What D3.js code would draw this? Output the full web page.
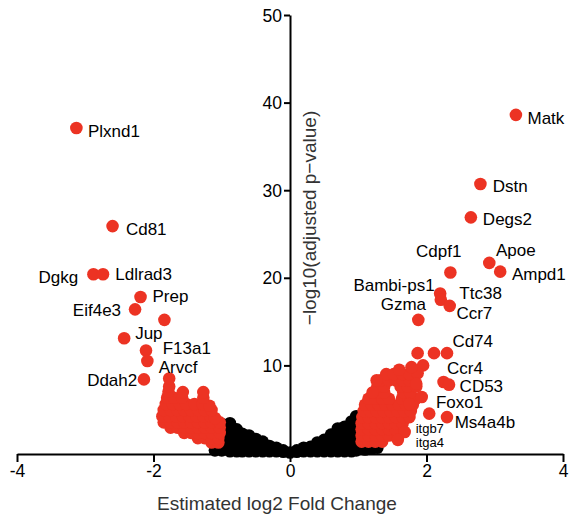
<!DOCTYPE html>
<html>
<head>
<meta charset="utf-8">
<script src="https://cdn.jsdelivr.net/npm/d3@7"></script>
<style>
body { margin: 0; background: #fff; }
text { font-family: "Liberation Sans", Arial, sans-serif; }
</style>
</head>
<body>
<div id="chart"></div>
<script>
const width = 570;
const height = 522;
const dotR = 6.3;
const red = '#ec3323';

// tick values
const xTicks = [-4, -2, 0, 2, 4];
const yTicks = [10, 20, 30, 40, 50];

// non significant genes (log2FC, -log10 p)
const blackPts = [
  [-1.1,0.3],[-1.0,0.3],[-1.0,1.0],[-1.0,1.8],[-1.0,2.6],[-1.0,3.3],
  [-0.88,0.2],[-0.88,0.9],[-0.88,1.6],[-0.88,2.3],[-0.88,3.0],[-0.88,3.4],
  [-0.78,0.2],[-0.78,0.9],[-0.78,1.6],[-0.78,2.3],[-0.78,2.7],
  [-0.7,0.2],[-0.7,0.9],[-0.7,1.6],[-0.7,2.2],
  [-0.6,0.2],[-0.6,0.9],[-0.6,1.7],[-0.6,2.0],
  [-0.5,0.2],[-0.5,0.9],[-0.5,1.6],
  [-0.4,0.2],[-0.4,0.8],[-0.4,1.3],
  [-0.3,0.2],[-0.3,0.8],
  [-0.2,0.2],[-0.2,0.6],
  [-0.1,0.15],[-0.1,0.3],
  [0,0.05],
  [0.1,0.15],[0.1,0.3],
  [0.2,0.2],[0.2,0.6],
  [0.3,0.2],[0.3,0.7],
  [0.4,0.2],[0.4,0.9],[0.4,1.2],
  [0.5,0.2],[0.5,0.9],[0.5,1.5],
  [0.6,0.2],[0.6,0.9],[0.6,1.6],[0.6,2.1],
  [0.7,0.2],[0.7,0.9],[0.7,1.6],[0.7,2.4],[0.7,2.8],
  [0.8,0.2],[0.8,0.9],[0.8,1.6],[0.8,2.3],[0.8,3.0],
  [0.9,0.2],[0.9,0.9],[0.9,1.6],[0.9,2.3],[0.9,3.0],[0.9,3.6],
  [0.97,0.3],[0.97,1.0],[0.97,1.7],[0.97,2.4],[0.97,3.1],[0.97,3.8],[0.97,4.2],
  [1.1,0.4],[1.1,1.0],[1.28,0.6],[1.2,0.5]
];

// significant, down
const leftRed = [
  [-1.15,1.2],[-1.05,1.2],
  [-1.35,1.7],[-1.25,1.7],[-1.15,1.7],[-1.05,1.7],
  [-1.55,2.3],[-1.45,2.3],[-1.35,2.3],[-1.25,2.3],[-1.15,2.3],[-1.03,2.3],
  [-1.75,2.9],[-1.65,2.9],[-1.55,2.9],[-1.45,2.9],[-1.35,2.9],[-1.25,2.9],[-1.15,2.9],[-1.03,2.9],
  [-1.85,3.5],[-1.75,3.5],[-1.65,3.5],[-1.55,3.5],[-1.45,3.5],[-1.35,3.5],[-1.25,3.5],[-1.15,3.5],[-1.03,3.5],
  [-1.87,4.2],[-1.77,4.2],[-1.67,4.2],[-1.57,4.2],[-1.47,4.2],[-1.37,4.2],[-1.27,4.2],[-1.17,4.2],[-1.1,4.0],
  [-1.85,4.9],[-1.75,4.9],[-1.65,4.9],[-1.55,4.9],[-1.45,4.9],[-1.35,4.9],[-1.25,4.9],[-1.15,4.9],
  [-1.82,5.6],[-1.72,5.6],[-1.62,5.6],[-1.52,5.6],[-1.4,5.6],[-1.28,5.6],[-1.18,5.4],
  [-1.8,6.3],[-1.7,6.3],[-1.58,6.3],[-1.27,6.3],
  [-1.78,7.0],[-1.77,7.6],[-1.77,8.5],[-1.57,6.95],[-1.27,6.95],
  [-1.84,15.2]
];

// significant, up
const rightRed = [
  [1.05,1.3],[1.15,1.3],[1.25,1.3],[1.35,1.3],
  [1.05,2.0],[1.15,2.0],[1.25,2.0],[1.35,2.0],[1.45,2.0],
  [1.05,2.7],[1.15,2.7],[1.25,2.7],[1.35,2.7],[1.45,2.7],[1.55,2.7],
  [1.05,3.4],[1.15,3.4],[1.25,3.4],[1.35,3.4],[1.45,3.4],[1.55,3.4],[1.65,3.4],
  [1.06,4.1],[1.15,4.1],[1.25,4.1],[1.35,4.1],[1.45,4.1],[1.55,4.1],[1.65,4.1],[1.75,4.1],
  [1.08,4.8],[1.17,4.8],[1.27,4.8],[1.37,4.8],[1.47,4.8],[1.57,4.8],[1.67,4.8],[1.77,4.8],
  [1.1,5.5],[1.2,5.5],[1.3,5.5],[1.4,5.5],[1.5,5.5],[1.6,5.5],[1.7,5.5],[1.8,5.5],
  [1.15,6.2],[1.25,6.2],[1.35,6.2],[1.45,6.2],[1.64,6.2],[1.74,6.2],[1.84,6.2],
  [1.22,6.9],[1.32,6.9],[1.38,6.9],[1.66,6.9],[1.76,6.9],
  [1.28,7.6],[1.38,7.6],[1.62,7.6],[1.72,7.6],[1.85,7.6],
  [1.33,8.3],[1.45,8.3],[1.55,8.3],[1.65,8.3],[1.75,8.3],
  [1.41,9.0],[1.52,9.0],[1.65,9.0],[1.75,9.0],
  [1.6,9.5],[1.95,10.0],[1.87,9.1],[1.85,7.9],[1.93,6.4],[1.27,8.3],[1.21,6.9],[1.78,9.8],[1.75,5.6],
  [1.87,11.4],[2.11,11.4]
];

// labelled genes
const genes = ['Plxnd1','Cd81','Dgkg','Ldlrad3','Prep','Eif4e3','Jup','F13a1','Arvcf','Ddah2',
  'Matk','Dstn','Degs2','Apoe','Ampd1','Cdpf1','Bambi-ps1','Ttc38','Ccr7','Gzma',
  'Cd74','Ccr4','CD53','Foxo1','Ms4a4b','itgb7','itga4'];
const geneFC = [-3.13,-2.60,-2.88,-2.74,-2.19,-2.27,-2.43,-2.11,-2.09,-2.14,
  3.31,2.79,2.65,2.92,3.08,2.35,2.20,2.21,2.34,1.88,
  2.30,2.25,2.33,2.04,2.30,1.68,1.58];
const geneP = [37.1,25.9,20.4,20.4,17.8,16.4,13.1,11.7,10.5,8.4,
  38.6,30.7,26.9,21.7,20.7,20.6,18.2,17.5,16.8,15.2,
  11.4,8.1,7.8,4.5,4.1,2.4,1.5];

// label placement (px offset from dot, anchor)
const labelPos = {
  Plxnd1:[11.6,9,'start'], Cd81:[13.4,9,'start'], Dgkg:[-15.3,9,'end'], Ldlrad3:[12.3,5.3,'start'],
  Prep:[12,4.7,'start'], Eif4e3:[-14,6.7,'end'], Jup:[11,0.7,'start'], F13a1:[16.7,3,'start'],
  Arvcf:[11.4,11.5,'start'], Ddah2:[-6.7,6.7,'end'],
  Matk:[11.6,9,'start'], Dstn:[12.4,8,'start'], Degs2:[12,7.8,'start'], Apoe:[6.7,-6.8,'start'],
  Ampd1:[11.7,8.8,'start'], Cdpf1:[-34.3,-15.8,'start'], 'Bambi-ps1':[-5.5,-2.5,'end'],
  Ttc38:[18.5,-1,'start'], Ccr7:[6.7,13,'start'], Gzma:[7.7,-9.5,'end'], Cd74:[5.4,-5.7,'start'],
  Ccr4:[3.4,-7.7,'start'], CD53:[10.6,7,'start'], Foxo1:[6.7,-5.3,'start'], Ms4a4b:[7.7,10.7,'start'],
  itgb7:[11,1,'start'], itga4:[18,7,'start']
};

const x = d3.scaleLinear().domain([-4, 4]).range([17, 563]);
const y = d3.scaleLinear().domain([0, 50]).range([453, 15]);

const svg = d3.select('#chart').append('svg')
  .attr('width', width)
  .attr('height', height);

// dots
svg.append('g').selectAll('circle')
  .data(blackPts)
  .join('circle')
  .attr('cx', d => x(d[0]))
  .attr('cy', d => y(d[1]))
  .attr('r', dotR)
  .attr('fill', '#000');

const redPts = leftRed.concat(rightRed, genes.map((g, i) => [geneFC[i], geneP[i]]));
svg.append('g').selectAll('circle')
  .data(redPts)
  .join('circle')
  .attr('cx', d => x(d[0]))
  .attr('cy', d => y(d[1]))
  .attr('r', dotR)
  .attr('fill', red);

// axes
const xAxis = svg.append('g')
  .attr('transform', 'translate(0,454)')
  .call(d3.axisBottom(x).tickValues(xTicks).tickSize(8).tickSizeOuter(0).tickPadding(3).tickFormat(d => String(d)));

const yAxis = svg.append('g')
  .attr('transform', `translate(${x(0)},0)`)
  .call(d3.axisLeft(y).tickValues(yTicks).tickSize(6).tickSizeOuter(0).tickPadding(2));

[xAxis, yAxis].forEach(a => {
  a.selectAll('path, line').attr('stroke', '#000').attr('stroke-width', 2);
  a.selectAll('text').attr('fill', '#000').style('font-size', '17.5px')
    .style('font-family', '"Liberation Sans", Arial, sans-serif');
});
yAxis.selectAll('.tick text').attr('dy', '0.35em');

// gene labels
svg.append('g').selectAll('text')
  .data(genes)
  .join('text')
  .attr('x', (d, i) => x(geneFC[i]) + labelPos[d][0])
  .attr('y', (d, i) => y(geneP[i]) + labelPos[d][1])
  .attr('text-anchor', d => labelPos[d][2])
  .style('font-size', d => d.startsWith('itg') ? '13px' : '17px')
  .attr('fill', '#000')
  .text(d => d);

// axis titles
svg.append('text')
  .attr('x', 277)
  .attr('y', 510)
  .attr('text-anchor', 'middle')
  .style('font-size', '19px')
  .attr('fill', '#333')
  .text('Estimated log2 Fold Change');

svg.append('text')
  .attr('transform', 'translate(316,218) rotate(-90)')
  .attr('text-anchor', 'middle')
  .style('font-size', '19px')
  .attr('fill', '#333')
  .text('\u2212log10(adjusted p\u2212value)');
</script>
</body>
</html>
